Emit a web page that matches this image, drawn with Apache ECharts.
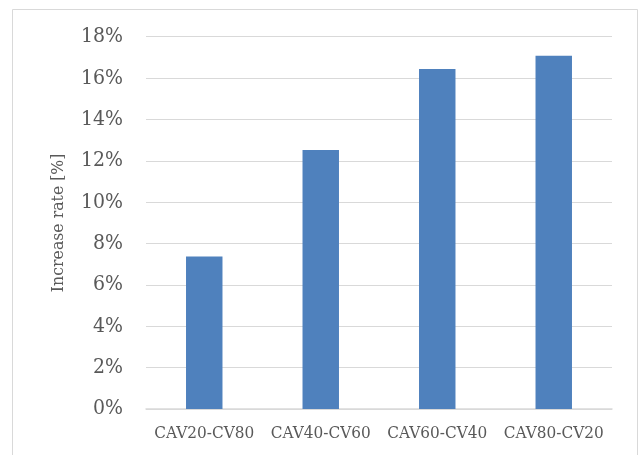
<!DOCTYPE html>
<html>
<head>
<meta charset="utf-8">
<script src="https://cdn.jsdelivr.net/npm/echarts@6/dist/echarts.min.js"></script>
<style>
  html, body { margin: 0; padding: 0; background: #ffffff; }
  #chart { width: 642px; height: 455px; }
</style>
</head>
<body>
<div id="chart"></div>
<script>
// Scenario labels (CAV share vs. CV share)
const categories = ['CAV20-CV80', 'CAV40-CV60', 'CAV60-CV40', 'CAV80-CV20'];
// Increase rate per scenario, in percent
const increaseRate = [7.37, 12.52, 16.44, 17.08];
// Value axis range and step, in percent
const yMin = 0;
const yMax = 18;
const yStep = 2;

const textColor = '#595959';
const gridColor = '#D9D9D9';
const fontFamily = '"DejaVu Serif Condensed", "Liberation Serif", serif';

const chart = echarts.init(document.getElementById('chart'), null, { renderer: 'canvas' });

chart.setOption({
  animation: false,
  backgroundColor: '#ffffff',
  graphic: [{
    type: 'rect',
    shape: { x: 12.5, y: 9.5, width: 625, height: 470 },
    style: { fill: 'none', stroke: gridColor, lineWidth: 1 },
    silent: true
  }],
  grid: { left: 146, right: 30, top: 36.7, bottom: 46 },
  xAxis: {
    type: 'category',
    data: categories,
    axisTick: { show: false },
    axisLine: { show: true, lineStyle: { color: gridColor, width: 1.5 } },
    axisLabel: {
      interval: 0,
      hideOverlap: false,
      color: textColor,
      fontFamily: fontFamily,
      fontSize: 17,
      margin: 16
    }
  },
  yAxis: {
    type: 'value',
    min: yMin,
    max: yMax,
    interval: yStep,
    name: 'Increase rate [%]',
    nameLocation: 'middle',
    nameGap: 79,
    nameTextStyle: {
      color: textColor,
      fontFamily: fontFamily,
      fontSize: 17.5
    },
    axisLine: { show: false },
    axisTick: { show: false },
    splitLine: { lineStyle: { color: gridColor, width: 1 } },
    axisLabel: {
      color: textColor,
      fontFamily: fontFamily,
      fontSize: 21,
      margin: 23,
      formatter: v => v + '%'
    }
  },
  series: [{
    type: 'bar',
    data: increaseRate,
    barWidth: '31.3%',
    itemStyle: { color: '#4F81BD' }
  }]
});
</script>
</body>
</html>
